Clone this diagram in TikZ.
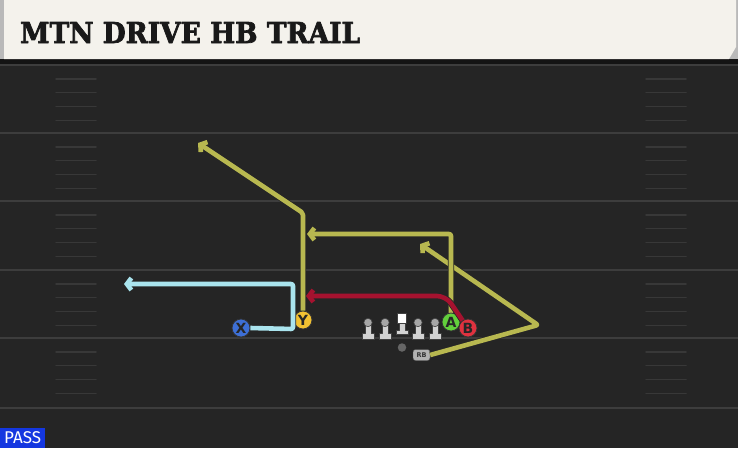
\documentclass[tikz,border=0pt]{standalone}
\usepackage{fontspec}
\setmainfont{DejaVu Sans}
\newfontfamily\titlefont[BoldFeatures={FakeBold=2.5}]{DejaVu Serif}
\newfontfamily\tagfont{Fira Sans}
\usetikzlibrary{arrows.meta}
\definecolor{field}{HTML}{252525}
\definecolor{yardline}{HTML}{3D3D3D}
\definecolor{hashline}{HTML}{383838}
\definecolor{header}{HTML}{F4F2EC}
\definecolor{olive}{HTML}{B8B850}
\definecolor{crimson}{HTML}{A5122F}
\definecolor{skyroute}{HTML}{AAE4EE}
\definecolor{xblue}{HTML}{3D6FD6}
\definecolor{yyellow}{HTML}{F2C132}
\definecolor{agreen}{HTML}{62CF3C}
\definecolor{bred}{HTML}{E0323F}
\definecolor{passblue}{HTML}{1437E0}
\definecolor{olgray}{HTML}{D2D2D2}
\begin{document}
\begin{tikzpicture}[x=1pt,y=-1pt,line join=round,>={Straight Barb[length=4.5pt,width=12pt]}]
	\tikzset{route/.style={draw=#1,line width=4.6pt,rounded corners=2pt,->,preaction={draw=black!85,line width=6.2pt}},
		player/.style={circle,draw=black!80,line width=0.8pt,minimum size=18pt,inner sep=0pt,text=black!85,font=\bfseries\fontsize{14}{14}\selectfont}}
	\useasboundingbox (0,0) rectangle (738,448);
	% field
	\fill[field] (0,59) rectangle (738,448);
	\fill[black!92] (0,59) rectangle (738,64);
	\foreach \y in {65,133,201,270,338,408}
	\draw[yardline,line width=2pt] (0,\y)--(738,\y);
	\foreach \y in {65,133,201,270,338}
	\foreach \d in {14,27.5,41.5,55.5}
	\draw[hashline,line width=1.5pt,line cap=round] (56,{\y+\d})--(96,{\y+\d}) (646,{\y+\d})--(686,{\y+\d});
	% header
	\fill[gray!55] (0,0) rectangle (738,59);
	\fill[header] (4,0)--(736,0)--(736,47)--(729,59)--(4,59)--cycle;
	\node[anchor=west,inner sep=0pt,text=black!90] (title) at (20,32.5) {\resizebox{340pt}{21pt}{\titlefont\bfseries MTN DRIVE HB TRAIL}};
	\node[fill=passblue,text=white,anchor=south west,minimum width=45pt,minimum height=20pt,inner sep=0pt,font=\tagfont\fontsize{17}{17}\selectfont] (pass) at (0,448) {PASS};
	% players
	\node[player,fill=xblue] (X) at (241,328) {X};
	\node[player,fill=yyellow] (Y) at (303,320) {Y};
	\node[draw=black!70,fill=gray!60,rounded corners=2.5pt,minimum width=17pt,minimum height=11pt,inner sep=0pt,text=black!80,font=\bfseries\fontsize{6.5}{6.5}\selectfont] (RB) at (421.5,355) {RB};
	\node[circle,fill=black!60,minimum size=8.5pt,inner sep=0pt] (ball) at (402,347.5) {};
	% routes
	\coordinate (ybreak) at (303,213); \coordinate (yend) at (198,143);
	\coordinate (abreak) at (451,234); \coordinate (aend) at (307,234);
	\coordinate (rbbreak) at (538,325); \coordinate (rbend) at (420,244);
	\coordinate (bbreak) at (446,296); \coordinate (bend) at (306,296);
	\coordinate (xlow) at (293,329); \coordinate (xbreak) at (293,284); \coordinate (xend) at (124,284);
	\draw[route=olive] (Y.north)--(ybreak)--(yend);
	\draw[route=skyroute] (X.east)--(xlow)--(xbreak)--(xend);
	\draw[route=olive] (RB.east)--(rbbreak)--(rbend);
	\draw[route=olive] (451,315)--(abreak)--(aend);
	\node[player,fill=agreen] (A) at (451,322) {A};
	\draw[route=crimson,rounded corners=9pt] (463,321)--(bbreak)--(bend);
	\node[player,fill=bred] (B) at (468,328) {B};
	% line
	\foreach \x/\n in {368/lt,385/lg,418/rg,435/rt}{
		\coordinate (\n) at (\x,330);
		\draw[black!75,fill=olgray,line width=0.6pt] (\x-6,339)--(\x-6,333.5)--(\x-3,333.5)--(\x-3,325)--(\x+3,325)--(\x+3,333.5)--(\x+6,333.5)--(\x+6,339)--cycle;
		\draw[black!75,fill=gray!70,line width=0.6pt] (\x,322.5) circle (4.2);
	}
	\coordinate (c) at (402,325);
	\draw[black!75,fill=olgray,line width=0.6pt] (396,334.5)--(396,330)--(399,330)--(399,322)--(405,322)--(405,330)--(408,330)--(408,334.5)--cycle;
	\draw[black!75,fill=white,line width=0.6pt] (397,313.5)rectangle(406,323);
\end{tikzpicture}
\end{document}
